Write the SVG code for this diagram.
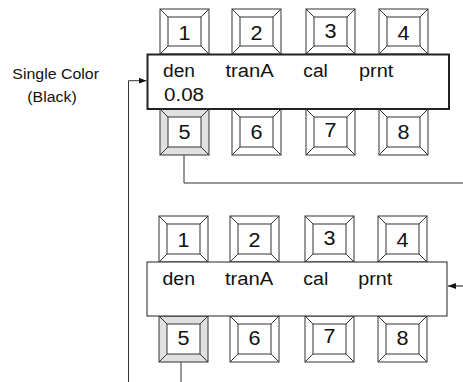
<svg xmlns="http://www.w3.org/2000/svg" width="463" height="382" viewBox="0 0 463 382">
<style>
.kb{fill:#fff;stroke:#333;stroke-width:1}
.kg{fill:#e0e0e0;stroke:#333;stroke-width:1}
.ki{fill:#fff;stroke:#333;stroke-width:1}
.kl{fill:none;stroke:#333;stroke-width:1}
.kd{font-family:"Liberation Sans",Arial,sans-serif;font-size:20px;fill:#111;text-anchor:middle}
.dt{font-family:"Liberation Sans",Arial,sans-serif;font-size:18px;fill:#111}
.lb{font-family:"Liberation Sans",Arial,sans-serif;font-size:15.5px;fill:#111}
.ln{fill:none;stroke:#333;stroke-width:1}
</style>
<defs>
<marker id="ah" markerWidth="8" markerHeight="6" refX="8" refY="3" orient="auto" markerUnits="userSpaceOnUse">
<path d="M0,0L8,3L0,6z" fill="#111"/>
</marker>
</defs>
<rect width="463" height="382" fill="#fff"/>

<g id="label">
<text class="lb" x="12.3" y="79.3" textLength="86.7" lengthAdjust="spacingAndGlyphs">Single Color</text>
<text class="lb" x="27.3" y="101.7" textLength="49.4" lengthAdjust="spacingAndGlyphs">(Black)</text>
</g>

<g id="connectors">
<path class="ln" d="M184,155V183H463"/>
<path class="ln" d="M181,362V382"/>
<path d="M463,286H448" fill="none" stroke="#888" stroke-width="2" marker-end="url(#ah)"/>
<path class="ln" d="M128.5,382V80.7H146.5" marker-end="url(#ah)"/>
</g>

<!-- Top display group -->
<g id="k1a" transform="translate(160,9)"><rect class="kb" width="49" height="45"/><rect class="ki" x="8" y="8" width="33" height="29"/><path class="kl" d="M0,0L8,8M49,0L41,8M0,45L8,37M49,45L41,37"/><text class="kd" x="24.5" y="31" textLength="12" lengthAdjust="spacingAndGlyphs">1</text></g>
<g id="k2a" transform="translate(232,9)"><rect class="kb" width="49" height="45"/><rect class="ki" x="8" y="8" width="33" height="29"/><path class="kl" d="M0,0L8,8M49,0L41,8M0,45L8,37M49,45L41,37"/><text class="kd" x="24.5" y="31" textLength="12" lengthAdjust="spacingAndGlyphs">2</text></g>
<g id="k3a" transform="translate(306,9)"><rect class="kb" width="49" height="45"/><rect class="ki" x="8" y="8" width="33" height="29"/><path class="kl" d="M0,0L8,8M49,0L41,8M0,45L8,37M49,45L41,37"/><text class="kd" x="24.5" y="29" textLength="12" lengthAdjust="spacingAndGlyphs">3</text></g>
<g id="k4a" transform="translate(379,9)"><rect class="kb" width="49" height="45"/><rect class="ki" x="8" y="8" width="33" height="29"/><path class="kl" d="M0,0L8,8M49,0L41,8M0,45L8,37M49,45L41,37"/><text class="kd" x="24.5" y="31" textLength="12" lengthAdjust="spacingAndGlyphs">4</text></g>

<g id="k5a" transform="translate(160,109)"><rect class="kg" width="49" height="46"/><rect class="ki" x="8" y="8" width="33" height="30"/><path class="kl" d="M0,0L8,8M49,0L41,8M0,46L8,38M49,46L41,38"/><text class="kd" x="24.5" y="29.5" textLength="12" lengthAdjust="spacingAndGlyphs">5</text></g>
<g id="k6a" transform="translate(232,109)"><rect class="kb" width="49" height="46"/><rect class="ki" x="8" y="8" width="33" height="30"/><path class="kl" d="M0,0L8,8M49,0L41,8M0,46L8,38M49,46L41,38"/><text class="kd" x="24.5" y="29.5" textLength="12" lengthAdjust="spacingAndGlyphs">6</text></g>
<g id="k7a" transform="translate(306,109)"><rect class="kb" width="49" height="46"/><rect class="ki" x="8" y="8" width="33" height="30"/><path class="kl" d="M0,0L8,8M49,0L41,8M0,46L8,38M49,46L41,38"/><text class="kd" x="24.5" y="27.5" textLength="12" lengthAdjust="spacingAndGlyphs">7</text></g>
<g id="k8a" transform="translate(379,109)"><rect class="kb" width="49" height="46"/><rect class="ki" x="8" y="8" width="33" height="30"/><path class="kl" d="M0,0L8,8M49,0L41,8M0,46L8,38M49,46L41,38"/><text class="kd" x="24.5" y="29.5" textLength="12" lengthAdjust="spacingAndGlyphs">8</text></g>

<g id="display1">
<rect x="147.5" y="54.5" width="301.5" height="54.5" fill="#fff" stroke="#222" stroke-width="2"/>
<text class="dt" x="163" y="77" textLength="32" lengthAdjust="spacingAndGlyphs">den</text>
<text class="dt" x="225.5" y="77" textLength="48.3" lengthAdjust="spacingAndGlyphs">tranA</text>
<text class="dt" x="303.3" y="77" textLength="24.5" lengthAdjust="spacingAndGlyphs">cal</text>
<text class="dt" x="359" y="77" textLength="34.3" lengthAdjust="spacingAndGlyphs">prnt</text>
<text class="dt" x="164" y="100.7" textLength="40" lengthAdjust="spacingAndGlyphs">0.08</text>
</g>

<!-- Bottom display group -->
<g id="k1b" transform="translate(159,216)"><rect class="kb" width="49" height="46"/><rect class="ki" x="8" y="8" width="33" height="30"/><path class="kl" d="M0,0L8,8M49,0L41,8M0,46L8,38M49,46L41,38"/><text class="kd" x="24.5" y="30.7" textLength="12" lengthAdjust="spacingAndGlyphs">1</text></g>
<g id="k2b" transform="translate(230,216)"><rect class="kb" width="49" height="46"/><rect class="ki" x="8" y="8" width="33" height="30"/><path class="kl" d="M0,0L8,8M49,0L41,8M0,46L8,38M49,46L41,38"/><text class="kd" x="24.5" y="30.7" textLength="12" lengthAdjust="spacingAndGlyphs">2</text></g>
<g id="k3b" transform="translate(305,216)"><rect class="kb" width="49" height="46"/><rect class="ki" x="8" y="8" width="33" height="30"/><path class="kl" d="M0,0L8,8M49,0L41,8M0,46L8,38M49,46L41,38"/><text class="kd" x="24.5" y="28.7" textLength="12" lengthAdjust="spacingAndGlyphs">3</text></g>
<g id="k4b" transform="translate(378,216)"><rect class="kb" width="49" height="46"/><rect class="ki" x="8" y="8" width="33" height="30"/><path class="kl" d="M0,0L8,8M49,0L41,8M0,46L8,38M49,46L41,38"/><text class="kd" x="24.5" y="30.7" textLength="12" lengthAdjust="spacingAndGlyphs">4</text></g>

<g id="k5b" transform="translate(159,316)"><rect class="kg" width="49" height="46"/><rect class="ki" x="8" y="8" width="33" height="30"/><path class="kl" d="M0,0L8,8M49,0L41,8M0,46L8,38M49,46L41,38"/><text class="kd" x="24.5" y="28.5" textLength="12" lengthAdjust="spacingAndGlyphs">5</text></g>
<g id="k6b" transform="translate(230,316)"><rect class="kb" width="49" height="46"/><rect class="ki" x="8" y="8" width="33" height="30"/><path class="kl" d="M0,0L8,8M49,0L41,8M0,46L8,38M49,46L41,38"/><text class="kd" x="24.5" y="28.5" textLength="12" lengthAdjust="spacingAndGlyphs">6</text></g>
<g id="k7b" transform="translate(305,316)"><rect class="kb" width="49" height="46"/><rect class="ki" x="8" y="8" width="33" height="30"/><path class="kl" d="M0,0L8,8M49,0L41,8M0,46L8,38M49,46L41,38"/><text class="kd" x="24.5" y="26.5" textLength="12" lengthAdjust="spacingAndGlyphs">7</text></g>
<g id="k8b" transform="translate(378,316)"><rect class="kb" width="49" height="46"/><rect class="ki" x="8" y="8" width="33" height="30"/><path class="kl" d="M0,0L8,8M49,0L41,8M0,46L8,38M49,46L41,38"/><text class="kd" x="24.5" y="28.5" textLength="12" lengthAdjust="spacingAndGlyphs">8</text></g>

<g id="display2">
<rect x="147" y="262" width="300" height="54" fill="#fff" stroke="#222" stroke-width="1"/>
<text class="dt" x="162.5" y="285" textLength="32.5" lengthAdjust="spacingAndGlyphs">den</text>
<text class="dt" x="225" y="285" textLength="48.3" lengthAdjust="spacingAndGlyphs">tranA</text>
<text class="dt" x="303.3" y="285" textLength="25" lengthAdjust="spacingAndGlyphs">cal</text>
<text class="dt" x="358.3" y="285" textLength="34" lengthAdjust="spacingAndGlyphs">prnt</text>
</g>
</svg>
